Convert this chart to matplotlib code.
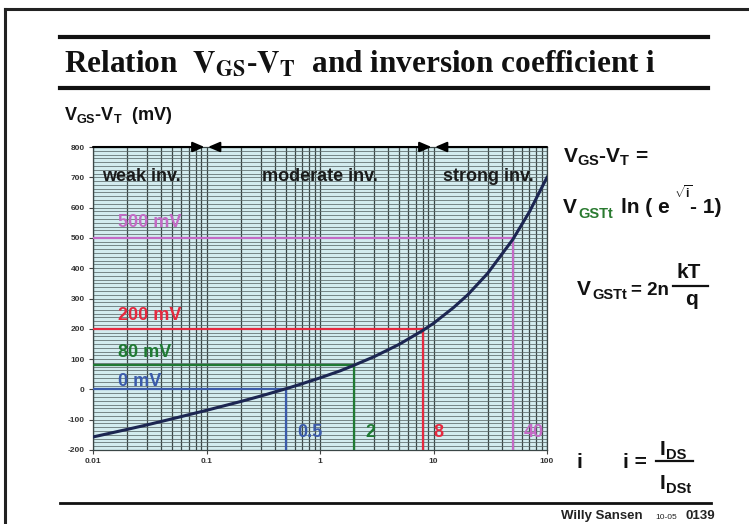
import matplotlib
matplotlib.use('Agg')
import matplotlib.pyplot as plt
from matplotlib.lines import Line2D
from matplotlib.ticker import LogLocator, NullFormatter
import numpy as np

plt.rcParams['font.family'] = ['Liberation Sans', 'DejaVu Sans']
plt.rcParams['font.weight'] = 'bold'
plt.rcParams['mathtext.fontset'] = 'custom'
plt.rcParams['mathtext.rm'] = 'Liberation Sans:bold'
plt.rcParams['mathtext.it'] = 'Liberation Sans:bold'
plt.rcParams['mathtext.bf'] = 'Liberation Sans:bold'
plt.rcParams['mathtext.default'] = 'bf'
plt.rcParams['axes.unicode_minus'] = False

# curve: inversion coefficient i vs VGS-VT (mV)
inv_coef = [0.01, 0.02, 0.03, 0.05, 0.1, 0.2, 0.3, 0.5, 0.7, 1, 1.5, 2, 3, 5, 8, 10,
            15, 20, 30, 50, 70, 100]
vgs_vt = [-157, -132, -117, -97, -69, -40, -22, 2, 19, 38, 61, 80, 108, 149, 194, 218,
          270, 312, 383, 495, 586, 700]

# marked levels
level_mv = [0, 80, 200, 500]
level_i = [0.5, 2, 8, 50]
level_txt = ['0 mV', '80 mV', '200 mV', '500 mV']
i_txt = ['0.5', '2', '8', '40']
level_col = ['#3b5bab', '#1f7a33', '#e5293f', '#c46ac6']

regions = ['weak inv.', 'moderate inv.', 'strong inv.']
bounds = [0.01, 0.1, 10, 100]

xticks = [0.01, 0.1, 1, 10, 100]
xtick_txt = ['0.01', '0.1', '1', '10', '100']
yticks = [-200, -100, 0, 100, 200, 300, 400, 500, 600, 700, 800]

W, H = 749, 524
fig = plt.figure(figsize=(W / 100, H / 100), dpi=100)
fig.patch.set_facecolor('white')


def ftxt(x, y, s, **kw):
    """ text placed in pixel coords of the slide, y at baseline """
    kw.setdefault('va', 'baseline')
    return fig.text(x / W, 1 - y / H, s, **kw)


def fline(x0, x1, y0, y1, **kw):
    fig.add_artist(Line2D([x0 / W, x1 / W], [1 - y0 / H, 1 - y1 / H],
                          transform=fig.transFigure, **kw))


# slide frame and title rules
fline(5, 5, 9, 530, color='#222222', lw=2.2)
fline(5, 760, 9, 9, color='#222222', lw=2.2)
fline(60, 708, 37, 37, color='#111111', lw=3.0)
fline(60, 708, 88, 88, color='#111111', lw=3.0)
fline(60, 711, 503, 503, color='#111111', lw=2.0)

ftxt(64, 72, r'Relation  $\mathbf{V_{GS}}$-$\mathbf{V_T}$  and inversion coefficient i',
     fontfamily='Liberation Serif', fontweight='bold', fontsize=22.5,
     math_fontfamily='stix', color='#111111')
ftxt(64, 120, r'$V_{GS}$-$V_T$  (mV)', fontsize=13, color='#111111')

ax = fig.add_axes([93 / W, 1 - 450 / H, (547 - 93) / W, (450 - 147) / H])
ax.set_facecolor('#d3ecef')
ax.set_xscale('log')
ax.set_xlim(0.01, 100)
ax.set_ylim(-200, 800)
ax.set_xticks(xticks)
ax.set_xticklabels(xtick_txt)
ax.xaxis.set_minor_locator(LogLocator(base=10, subs=range(2, 10)))
ax.xaxis.set_minor_formatter(NullFormatter())
ax.set_yticks(yticks)
ax.set_yticks(np.arange(-200, 800, 12.5), minor=True)
ax.tick_params(which='major', length=3, width=0.8, color='#444444',
               labelsize=6, labelcolor='#333333', pad=3)
ax.tick_params(which='minor', length=0)
ax.grid(which='both', axis='x', color='#3a4646', lw=0.9)
ax.grid(which='both', axis='y', color='#5c6a6a', lw=0.55)
ax.set_axisbelow(True)
for sp in ax.spines.values():
    sp.set_color('#3a4646')
    sp.set_linewidth(0.9)
for lab in ax.get_xticklabels() + ax.get_yticklabels():
    lab.set_fontweight('bold')

# colored level guides
for mv, iv, col in zip(level_mv, level_i, level_col):
    ax.plot([0.01, iv], [mv, mv], color=col, lw=1.6, zorder=3)
    ax.plot([iv, iv], [-200, mv], color=col, lw=1.6, zorder=3)

lab_dy = [3, 8, 9, 11]
for mv, txt, col, dy in zip(level_mv, level_txt, level_col, lab_dy):
    ax.annotate(txt, (0.0166, mv), xytext=(0, dy * 0.72), textcoords='offset points',
                color=col, fontsize=13, fontweight='bold', va='baseline', zorder=5)
for iv, txt, col in zip(level_i, i_txt, level_col):
    ax.annotate(txt, (iv, -157), xytext=(11 * 0.72, 0), textcoords='offset points',
                color=col, fontsize=13, fontweight='bold', va='baseline', zorder=5)

ax.plot(inv_coef, vgs_vt, color='#1c2652', lw=2.2, zorder=4)

# region arrows along the top
ax.annotate('', xy=(0.096, 800), xytext=(0.01, 800),
            arrowprops=dict(arrowstyle='-|>,head_length=0.7,head_width=0.3', lw=1.5,
                            color='black', shrinkA=0, shrinkB=0), annotation_clip=False)
ax.annotate('', xy=(9.6, 800), xytext=(0.103, 800),
            arrowprops=dict(arrowstyle='<|-|>,head_length=0.7,head_width=0.3', lw=1.5,
                            color='black', shrinkA=0, shrinkB=0), annotation_clip=False)
ax.annotate('', xy=(10.3, 800), xytext=(100, 800),
            arrowprops=dict(arrowstyle='-|>,head_length=0.7,head_width=0.3', lw=1.5,
                            color='black', shrinkA=0, shrinkB=0), annotation_clip=False)

region_x = [0.012, 0.31, 12.1]
for rx, txt in zip(region_x, regions):
    ax.text(rx, 688, txt, fontsize=13, fontweight='bold', color='#1a1a1a',
            va='baseline', zorder=5)

# formulas on the right
ftxt(563, 163, r'$V_{GS}$-$V_T$ =', fontsize=15, color='#111111')
ftxt(563, 213, 'V', fontsize=15, color='#111111')
ftxt(578, 218, 'GSTt', fontsize=10.5, color='#2a7a30')
ftxt(621, 213, 'ln ( e', fontsize=15, color='#111111')
ftxt(674, 198, r'$\sqrt{i}$', fontsize=8.5, color='#111111')
ftxt(690, 213, '- 1)', fontsize=15, color='#111111')

ftxt(577, 295, 'V', fontsize=15, color='#111111')
ftxt(592, 299, 'GSTt', fontsize=10.5, color='#111111')
ftxt(631, 295, '= 2n', fontsize=13.5, color='#111111')
ftxt(676, 278, 'kT', fontsize=15, color='#111111')
fline(673, 708, 286, 286, color='#111111', lw=1.6)
ftxt(685, 305, 'q', fontsize=15, color='#111111')

ftxt(576, 468, 'i', fontsize=15, color='#111111')
ftxt(623, 468, 'i =', fontsize=15, color='#111111')
ftxt(660, 455, 'I', fontsize=15, color='#111111')
ftxt(666, 459, 'DS', fontsize=10.5, color='#111111')
fline(656, 693, 461, 461, color='#111111', lw=1.6)
ftxt(660, 489, 'I', fontsize=15, color='#111111')
ftxt(666, 493, 'DSt', fontsize=10.5, color='#111111')

ftxt(561, 519, 'Willy Sansen', fontsize=9.5, color='#222222')
ftxt(655, 519, '10-05', fontsize=6, fontweight='normal', color='#222222')
ftxt(685, 519, '0139', fontsize=9.5, color='#222222')

fig.savefig('out.png', dpi=100)
